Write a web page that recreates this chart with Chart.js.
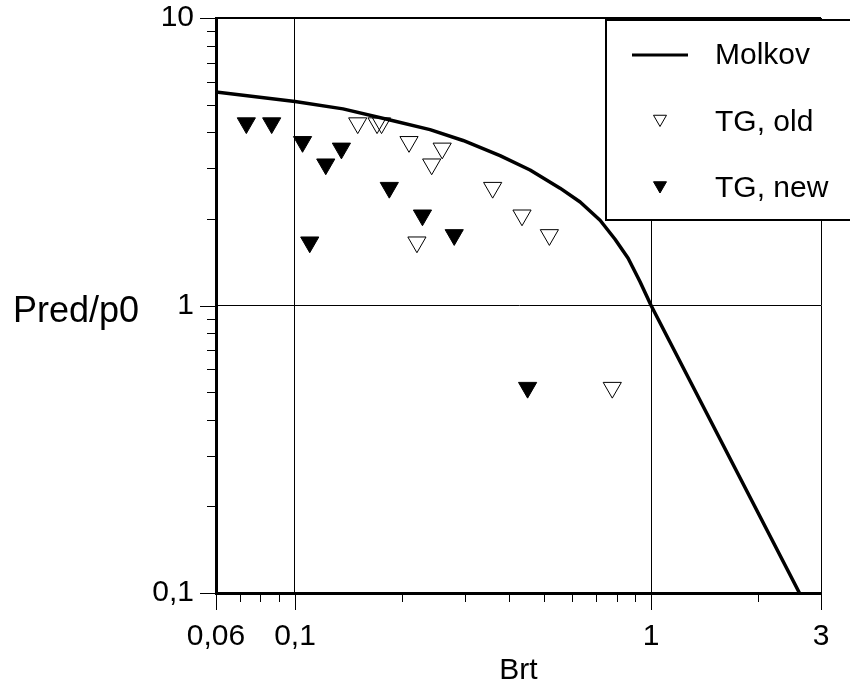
<!DOCTYPE html>
<html>
<head>
<meta charset="utf-8">
<script src="https://cdn.jsdelivr.net/npm/chart.js@4/dist/chart.umd.min.js"></script>
<style>
  body { margin: 0; background: #fff; }
  #wrap { width: 850px; height: 700px; }
</style>
</head>
<body>
<div id="wrap"><canvas id="chart" width="850" height="700"></canvas></div>
<script>
// Molkov correlation curve
const curveBrt = [0.06, 0.1, 0.1364, 0.1849, 0.2394, 0.2964, 0.3765, 0.4572, 0.555, 0.632, 0.719, 0.792, 0.862, 0.931, 1, 2.61];
const curveP = [5.53, 5.12, 4.83, 4.42, 4.09, 3.75, 3.32, 2.96, 2.56, 2.29, 1.98, 1.70, 1.46, 1.21, 1, 0.1];

// test points
const oldBrt = [0.15, 0.17, 0.175, 0.209, 0.259, 0.242, 0.359, 0.434, 0.518, 0.22, 0.778];
const oldP = [4.31, 4.31, 4.31, 3.71, 3.52, 3.10, 2.57, 2.06, 1.76, 1.66, 0.518];
const newBrt = [0.073, 0.086, 0.105, 0.135, 0.122, 0.184, 0.228, 0.28, 0.11, 0.45];
const newP = [4.31, 4.31, 3.71, 3.52, 3.10, 2.57, 2.06, 1.76, 1.66, 0.518];

// ticks
const xTicks = [0.06, 0.07, 0.08, 0.09, 0.1, 0.2, 0.3, 0.4, 0.5, 0.6, 0.7, 0.8, 0.9, 1, 2, 3];
const xMajor = [0.06, 0.1, 1, 3];
const xLabels = ['0,06', '0,1', '1', '3'];
const yTicks = [0.1, 0.2, 0.3, 0.4, 0.5, 0.6, 0.7, 0.8, 0.9, 1, 2, 3, 4, 5, 6, 7, 8, 9, 10];
const yMajor = [0.1, 1, 10];
const yLabels = ['0,1', '1', '10'];
const gridAt = [0.1, 1];

const FONT = "'Liberation Sans', Arial, sans-serif";
Chart.defaults.font.family = FONT;
Chart.defaults.color = '#000';

const pts = (xs, ys) => xs.map((x, i) => ({x: x, y: ys[i]}));

const legendItems = [
  {text: 'Molkov', kind: 'line'},
  {text: 'TG, old', kind: 'open'},
  {text: 'TG, new', kind: 'filled'}
];

const extras = {
  id: 'extras',
  afterDraw(chart) {
    const {ctx, chartArea: a, scales} = chart;
    const xs = scales.x, ys = scales.y;
    ctx.save();
    ctx.strokeStyle = '#000';
    // frame top / right
    ctx.lineWidth = 2;
    ctx.beginPath(); ctx.moveTo(a.left, a.top); ctx.lineTo(a.right, a.top); ctx.stroke();
    ctx.lineWidth = 1;
    ctx.beginPath(); ctx.moveTo(a.right + 0.5, a.top); ctx.lineTo(a.right + 0.5, a.bottom); ctx.stroke();

    // tick marks outside the frame
    ctx.lineWidth = 1;
    ctx.beginPath();
    xTicks.forEach(v => {
      const px = Math.round(xs.getPixelForValue(v)) + 0.5;
      const len = xMajor.includes(v) ? 17 : 9;
      ctx.moveTo(px, a.bottom); ctx.lineTo(px, a.bottom + len);
    });
    yTicks.forEach(v => {
      const py = Math.round(ys.getPixelForValue(v)) + 0.5;
      const len = yMajor.includes(v) ? 16 : 9;
      ctx.moveTo(a.left, py); ctx.lineTo(a.left - len, py);
    });
    ctx.stroke();

    // axis titles
    ctx.fillStyle = '#000';
    ctx.font = '36px ' + FONT;
    ctx.textAlign = 'left';
    ctx.textBaseline = 'middle';
    ctx.fillText('Pred/p0', 13, 312);
    ctx.font = '30px ' + FONT;
    ctx.textAlign = 'center';
    ctx.textBaseline = 'alphabetic';
    ctx.fillText('Brt', (a.left + a.right) / 2, 679);

    // legend box
    const bx = 606, by = 20, bw = 260, bh = 200;
    ctx.fillStyle = '#fff';
    ctx.fillRect(bx, by, bw, bh);
    ctx.lineWidth = 2;
    ctx.strokeRect(bx, by, bw, bh);
    legendItems.forEach((it, i) => {
      const cy = 55 + i * 66.5;
      ctx.strokeStyle = '#000';
      ctx.fillStyle = '#000';
      if (it.kind === 'line') {
        ctx.lineWidth = 3;
        ctx.beginPath(); ctx.moveTo(632, cy); ctx.lineTo(688, cy); ctx.stroke();
      } else {
        ctx.fillStyle = it.kind === 'filled' ? '#000' : 'rgba(0,0,0,0)';
        ctx.lineWidth = 1;
        Chart.helpers.drawPoint(ctx, {pointStyle: 'triangle', rotation: 180, radius: 7.5, borderWidth: 1}, 660, cy - 2.5);
      }
      ctx.fillStyle = '#000';
      ctx.textAlign = 'left';
      ctx.textBaseline = 'middle';
      ctx.fillText(it.text, 715, cy + 1);
    });
    ctx.restore();
  }
};

new Chart(document.getElementById('chart'), {
  type: 'scatter',
  data: {
    datasets: [
      {
        label: 'Molkov',
        data: pts(curveBrt, curveP),
        showLine: true,
        borderColor: '#000',
        borderWidth: 3.5,
        borderJoinStyle: 'round',
        pointRadius: 0,
        tension: 0
      },
      {
        label: 'TG, old',
        data: pts(oldBrt, oldP),
        pointStyle: 'triangle',
        rotation: 180,
        pointRadius: 10.5,
        backgroundColor: 'rgba(0,0,0,0)',
        borderColor: '#000',
        borderWidth: 1
      },
      {
        label: 'TG, new',
        data: pts(newBrt, newP),
        pointStyle: 'triangle',
        rotation: 180,
        pointRadius: 10.5,
        backgroundColor: '#000',
        borderColor: '#000',
        borderWidth: 1
      }
    ]
  },
  options: {
    responsive: false,
    animation: false,
    layout: { padding: {top: 18, right: 29, left: 0, bottom: 0} },
    plugins: {
      legend: { display: false },
      tooltip: { enabled: false }
    },
    scales: {
      x: {
        type: 'logarithmic',
        position: 'bottom',
        min: 0.06,
        max: 3,
        afterBuildTicks: (s) => { s.ticks = xTicks.map(v => ({value: v})); },
        afterFit: (s) => { s.height = 107; s.paddingLeft = 0; s.paddingRight = 0; },
        border: { display: true, color: '#000', width: 3 },
        grid: {
          drawTicks: false,
          lineWidth: 1,
          color: (c) => (c.tick && gridAt.includes(c.tick.value)) ? '#000' : 'rgba(0,0,0,0)'
        },
        ticks: {
          autoSkip: false,
          maxRotation: 0,
          padding: 26,
          font: { size: 30, lineHeight: 1.2 },
          color: '#000',
          callback: (v) => { const k = xMajor.indexOf(v); return k >= 0 ? xLabels[k] : ''; }
        }
      },
      y: {
        type: 'logarithmic',
        min: 0.1,
        max: 10,
        afterBuildTicks: (s) => { s.ticks = yTicks.map(v => ({value: v})); },
        afterFit: (s) => { s.width = 216; s.paddingTop = 0; s.paddingBottom = 0; },
        border: { display: true, color: '#000', width: 3 },
        grid: {
          drawTicks: false,
          lineWidth: 1,
          color: (c) => (c.tick && c.tick.value === 1) ? '#000' : 'rgba(0,0,0,0)'
        },
        ticks: {
          autoSkip: false,
          padding: 22,
          font: { size: 30, lineHeight: 1 },
          color: '#000',
          callback: (v) => { const k = yMajor.indexOf(v); return k >= 0 ? yLabels[k] : ''; }
        }
      }
    }
  },
  plugins: [extras]
});
</script>
</body>
</html>
